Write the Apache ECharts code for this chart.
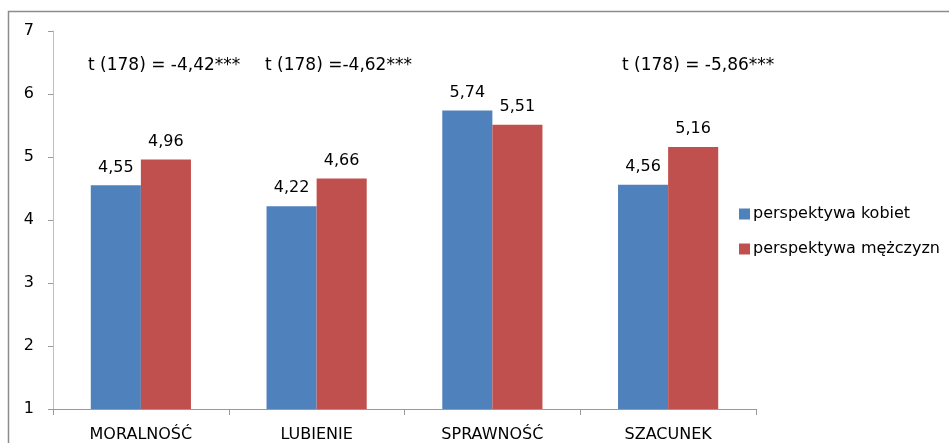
<!DOCTYPE html>
<html>
<head>
<meta charset="utf-8">
<script src="https://cdn.jsdelivr.net/npm/echarts@6/dist/echarts.min.js"></script>
<style>
  html, body { margin: 0; padding: 0; background: #fff; }
  #chart { width: 949px; height: 443px; }
</style>
</head>
<body>
<div id="chart"></div>
<script>
const categories = ['MORALNOŚĆ', 'LUBIENIE', 'SPRAWNOŚĆ', 'SZACUNEK'];
const kobiet = [4.55, 4.22, 5.74, 4.56];
const mezczyzn = [4.96, 4.66, 5.51, 5.16];
const tTests = ['t (178) = -4,42***', 't (178) =-4,62***', '', 't (178) = -5,86***'];
const yTicks = [1, 2, 3, 4, 5, 6, 7];

const font = '"DejaVu Sans", sans-serif';
const comma = p => String(p.value).replace('.', ',');

let myChart = echarts.init(document.getElementById('chart'));

// t-test notes sit a bit right of each group's centre, like in the original
const tX = [88, 265, 0, 622];
const notes = [];
tTests.forEach((t, i) => {
  if (!t) return;
  notes.push({
    type: 'text', left: tX[i], top: 57,
    style: { text: t, font: '17px ' + font, fill: '#000' }
  });
});

let option = {
  animation: false,
  textStyle: { fontFamily: font },
  grid: { left: 53, top: 31, right: 193, bottom: 34 },
  legend: {
    orient: 'vertical',
    left: 734, top: 201,
    itemWidth: 11, itemHeight: 11, itemGap: 19,
    icon: 'rect',
    textStyle: { fontSize: 16, color: '#000', fontFamily: font, padding: [0, 0, 0, -2] },
    data: ['perspektywa kobiet', 'perspektywa mężczyzn']
  },
  xAxis: {
    type: 'category',
    data: categories,
    axisLine: { lineStyle: { color: '#9a9a9a', width: 1 } },
    axisTick: { show: true, length: 6, lineStyle: { color: '#9a9a9a' } },
    axisLabel: { fontSize: 16, color: '#000', margin: 18, fontFamily: font }
  },
  yAxis: {
    type: 'value',
    min: 1, max: 7, interval: 1,
    splitLine: { show: false },
    axisLine: { show: true, lineStyle: { color: '#bfbfbf', width: 1 } },
    axisTick: { show: true, length: 5, lineStyle: { color: '#9a9a9a' } },
    axisLabel: {
      fontSize: 16, color: '#000', margin: 19, fontFamily: font,
      formatter: v => yTicks.includes(v) ? String(v) : ''
    }
  },
  series: [
    {
      name: 'perspektywa kobiet',
      type: 'bar',
      data: kobiet,
      barGap: '0%',
      barCategoryGap: '43%',
      itemStyle: { color: '#4F81BD' },
      label: { show: true, position: 'top', distance: 10, fontSize: 16, color: '#000', formatter: comma }
    },
    {
      name: 'perspektywa mężczyzn',
      type: 'bar',
      data: mezczyzn,
      itemStyle: { color: '#C0504D' },
      label: { show: true, position: 'top', distance: 10, fontSize: 16, color: '#000', formatter: comma }
    }
  ],
  graphic: [
    {
      type: 'rect', silent: true,
      shape: { x: 8.5, y: 11.5, width: 960, height: 460 },
      style: { fill: 'none', stroke: '#8c8c8c', lineWidth: 1.5 }
    }
  ].concat(notes)
};
myChart.setOption(option);
</script>
</body>
</html>
